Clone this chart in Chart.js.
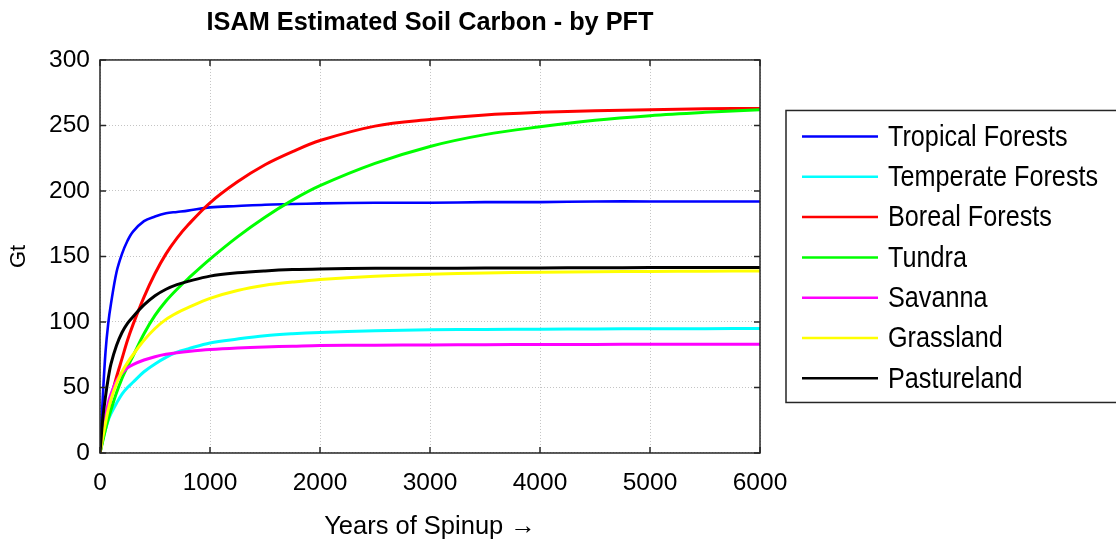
<!DOCTYPE html>
<html>
<head>
<meta charset="utf-8">
<script src="https://cdn.jsdelivr.net/npm/chart.js@4/dist/chart.umd.min.js"></script>
<style>
  html, body { margin: 0; padding: 0; background: #fff; }
  #wrap { width: 1116px; height: 545px; }
</style>
</head>
<body>
<div id="wrap"><canvas id="soilChart" width="1116" height="545"></canvas></div>
<script>
// years of spinup (x positions of the read-off samples)
const years = [0, 25, 50, 75, 100, 150, 200, 250, 300, 400, 500, 600, 700, 800, 1000,
  1250, 1500, 1750, 2000, 2500, 3000, 3500, 4000, 4500, 5000, 5500, 6000];

// soil carbon in Gt
const tropical = [0, 42, 77, 99, 114, 138, 152, 162, 169, 177, 180.5, 183, 184, 185, 187.5,
  188.5, 189.5, 190, 190.5, 191, 191, 191.5, 191.5, 192, 192, 192, 192];
const temperate = [0, 10, 18, 25, 30, 38, 45, 50, 54, 62, 68, 73, 77, 79.5, 84,
  87, 89.5, 91, 92, 93.3, 94, 94.3, 94.5, 94.7, 94.8, 94.9, 95];
const boreal = [0, 11, 22, 32, 42, 58, 72, 86, 98, 119, 137, 152, 164, 174, 191,
  207, 220, 230, 238.5, 249.5, 254.5, 258, 260, 261.3, 262, 262.7, 263];
const tundra = [0, 9, 18, 26, 33, 46, 57, 66, 74, 91, 105, 116, 125, 133, 148,
  165, 180, 193, 204, 221, 234, 243, 249, 254, 257.5, 260, 262];
const savanna = [0, 16, 28, 38, 45, 55, 61, 65, 67.5, 71, 73.5, 75.3, 76.5, 77.5, 79,
  80.2, 81, 81.5, 82, 82.3, 82.5, 82.7, 82.8, 82.9, 83, 83, 83];
const grassland = [0, 12, 23, 33, 41, 53, 62, 69, 75, 86, 95, 102, 107, 111, 118,
  124, 128, 130.5, 132.5, 135, 136.5, 137.3, 138, 138.3, 138.6, 138.8, 139];
const pastureland = [0, 26, 43, 57, 68, 82, 92, 99, 104, 113, 120, 125, 128.5, 131, 135,
  137.5, 139, 140, 140.5, 141, 141, 141.2, 141.3, 141.4, 141.5, 141.5, 141.5];

const labels = ["Tropical Forests", "Temperate Forests", "Boreal Forests", "Tundra",
  "Savanna", "Grassland", "Pastureland"];
const colors = ["#0000ff", "#00ffff", "#ff0000", "#00ff00", "#ff00ff", "#ffff00", "#000000"];
const series = [tropical, temperate, boreal, tundra, savanna, grassland, pastureland];

const xTicks = [0, 1000, 2000, 3000, 4000, 5000, 6000];
const yTicks = [0, 50, 100, 150, 200, 250, 300];

const FONT = "'Liberation Sans', Arial, sans-serif";

const datasets = series.map((vals, i) => ({
  label: labels[i],
  data: vals.map((v, k) => ({ x: years[k], y: v })),
  borderColor: colors[i],
  backgroundColor: colors[i],
  borderWidth: i === 0 ? 2.6 : 3,
  pointRadius: 0,
  tension: 0.35,
  order: series.length - i   // later series on top, like the original
}));

// box around the plot with small inward ticks
const framePlugin = {
  id: "frame",
  afterDatasetsDraw(chart) {
    const { ctx, chartArea: a, scales: { x, y } } = chart;
    ctx.save();
    ctx.strokeStyle = "#262626";
    ctx.lineWidth = 1.5;
    ctx.strokeRect(a.left, a.top, a.width, a.height);
    ctx.beginPath();
    xTicks.forEach(v => {
      const px = x.getPixelForValue(v);
      ctx.moveTo(px, a.bottom); ctx.lineTo(px, a.bottom - 6);
      ctx.moveTo(px, a.top); ctx.lineTo(px, a.top + 6);
    });
    yTicks.forEach(v => {
      const py = y.getPixelForValue(v);
      ctx.moveTo(a.left, py); ctx.lineTo(a.left + 6, py);
      ctx.moveTo(a.right, py); ctx.lineTo(a.right - 6, py);
    });
    ctx.stroke();
    ctx.restore();
  }
};

// boxed legend to the right of the plot (text squeezed like the original)
const legendPlugin = {
  id: "boxLegend",
  afterDraw(chart) {
    const { ctx, chartArea: a } = chart;
    const rowH = 40.3;
    const boxH = 292;
    const left = a.right + 26;
    const top = (a.top + a.bottom) / 2 - boxH / 2;
    ctx.save();
    ctx.fillStyle = "#fff";
    ctx.fillRect(left, top, 340, boxH);
    ctx.strokeStyle = "#262626";
    ctx.lineWidth = 1.5;
    ctx.strokeRect(left, top, 340, boxH);
    chart.data.datasets.forEach((ds, i) => {
      const yy = top + 26 + i * rowH;
      ctx.strokeStyle = ds.borderColor;
      ctx.lineWidth = 2.5;
      ctx.beginPath();
      ctx.moveTo(left + 16, yy);
      ctx.lineTo(left + 92, yy);
      ctx.stroke();
      ctx.save();
      ctx.translate(left + 102, yy + 1);
      ctx.scale(0.84, 1);
      ctx.font = "30px " + FONT;
      ctx.textBaseline = "middle";
      ctx.textAlign = "left";
      ctx.fillStyle = "#000";
      ctx.fillText(ds.label, 0, 0);
      ctx.restore();
    });
    ctx.restore();
  }
};

new Chart(document.getElementById("soilChart").getContext("2d"), {
  type: "line",
  data: { datasets },
  plugins: [framePlugin, legendPlugin],
  options: {
    responsive: false,
    animation: false,
    layout: { padding: { left: 0, right: 356, top: 0, bottom: 0 } },
    plugins: {
      legend: { display: false },
      tooltip: { enabled: false },
      title: {
        display: true,
        text: "ISAM Estimated Soil Carbon - by PFT",
        color: "#000",
        fullSize: false,
        font: { family: FONT, size: 25.3, weight: "bold" },
        padding: { top: 8, bottom: 21.6 }
      }
    },
    scales: {
      x: {
        type: "linear",
        min: 0,
        max: 6000,
        afterBuildTicks: s => { s.ticks = xTicks.map(v => ({ value: v })); },
        ticks: {
          color: "#000",
          font: { family: FONT, size: 24.5 },
          padding: 16,
          maxRotation: 0,
          callback: v => String(v)
        },
        grid: { color: "#c4c4c4", drawTicks: false },
        border: { display: false, dash: [1, 2] },
        title: {
          display: true,
          text: "Years of Spinup \u2192",
          color: "#000",
          font: { family: FONT, size: 25.5 },
          padding: { top: 0, bottom: 3 }
        },
        afterFit: s => { s.height = 92; }
      },
      y: {
        min: 0,
        max: 300,
        afterBuildTicks: s => { s.ticks = yTicks.map(v => ({ value: v })); },
        ticks: { color: "#000", font: { family: FONT, size: 24.5 }, padding: 10 },
        grid: { color: "#c4c4c4", drawTicks: false },
        border: { display: false, dash: [1, 2] },
        title: {
          display: true,
          text: "Gt",
          color: "#000",
          font: { family: FONT, size: 22 },
          padding: { top: 6, bottom: 0 }
        },
        afterFit: s => { s.width = 100; }
      }
    }
  }
});
</script>
</body>
</html>
